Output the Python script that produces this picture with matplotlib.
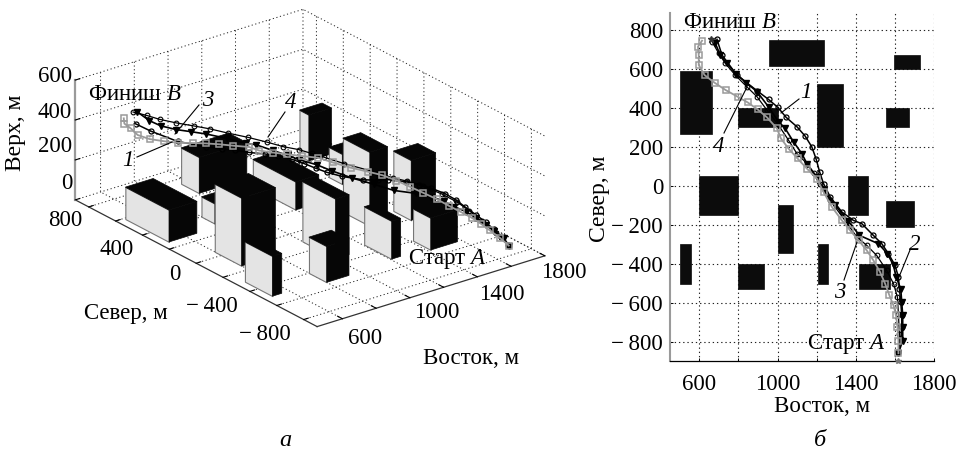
import matplotlib
matplotlib.use('Agg')
import matplotlib.pyplot as plt
from matplotlib.lines import Line2D
from mpl_toolkits.mplot3d.art3d import Poly3DCollection

plt.rcParams['font.family'] = ['Liberation Serif', 'DejaVu Serif']
plt.rcParams['mathtext.fontset'] = 'custom'
plt.rcParams['mathtext.it'] = 'Liberation Serif:italic'
plt.rcParams['mathtext.rm'] = 'Liberation Serif'

W, H = 963, 453
FS = 16.5

# buildings: west, east, south, north, height
bx0 = [500, 800, 958, 1596, 1200, 1555, 600, 1000, 1360, 1555, 500, 800, 1207, 1417]
bx1 = [665, 1000, 1240, 1730, 1336, 1672, 800, 1080, 1465, 1700, 555, 932, 1260, 1575]
by0 = [265, 300, 615, 600, 200, 300, -150, -347, -150, -213, -505, -532, -505, -532]
by1 = [590, 400, 750, 670, 520, 400, 50, -100, 50, -80, -300, -400, -300, -400]
bh = [160, 100, 180, 230, 140, 150, 340, 300, 370, 300, 200, 180, 190, 160]

# trajectories A -> B
x1 = [1618, 1630, 1635, 1635, 1630, 1623, 1618, 1601, 1567, 1533, 1490, 1431, 1388, 1329,
      1269, 1235, 1215, 1198, 1175, 1141, 1099, 1044, 1002, 954, 895, 792, 716, 690]
y1 = [-855, -786, -726, -666, -598, -529, -469, -409, -349, -298, -255, -195, -178, -135,
      -57, 11, 71, 135, 200, 255, 303, 351, 402, 443, 488, 568, 671, 752]
z1 = [85, 100, 115, 130, 145, 160, 175, 190, 205, 215, 225, 230, 232, 235,
      240, 245, 250, 255, 260, 265, 270, 275, 280, 285, 295, 320, 355, 370]

x2 = [1618, 1640, 1640, 1640, 1635, 1630, 1606, 1593, 1562, 1516, 1419, 1360, 1295, 1235,
      1201, 1150, 1124, 1082, 1039, 1005, 954, 895, 840, 789, 741, 707, 682]
y2 = [-860, -795, -726, -666, -598, -529, -469, -409, -349, -298, -255, -180, -100, -23,
      45, 114, 165, 225, 294, 328, 405, 483, 529, 574, 628, 671, 731]
z2 = [85, 95, 105, 115, 125, 135, 145, 155, 165, 175, 200, 220, 240, 265,
      280, 295, 305, 320, 335, 340, 350, 360, 370, 378, 390, 410, 440]

x3 = [1618, 1618, 1613, 1606, 1593, 1572, 1550, 1524, 1490, 1456, 1414, 1371, 1329, 1278, 1235, 1201,
      1150, 1102, 1056, 1017, 997, 946, 898, 847, 796, 735, 678, 627, 597, 597, 593, 614]
y3 = [-860, -795, -726, -666, -615, -563, -503, -443, -383, -332, -280, -229, -178, -109, -32, 37,
      88, 140, 191, 243, 294, 351, 392, 428, 457, 491, 529, 568, 620, 671, 714, 745]
z3 = [85, 100, 115, 130, 145, 160, 175, 195, 215, 235, 260, 280, 290, 300, 310, 318,
      322, 325, 328, 330, 335, 335, 340, 345, 350, 355, 365, 375, 385, 400, 410, 420]

x4 = [1618, 1623, 1618, 1613, 1593, 1558, 1507, 1456, 1405, 1363, 1269, 1218,
      1184, 1150, 1099, 1056, 1005, 946, 895, 843, 784, 733, 699, 665]
y4 = [-860, -760, -658, -572, -503, -435, -358, -306, -263, -203, -75, 11,
      63, 114, 165, 234, 311, 388, 457, 508, 568, 628, 680, 740]
z4 = [85, 110, 135, 160, 185, 210, 235, 255, 270, 285, 310, 325,
      335, 345, 355, 365, 375, 385, 395, 405, 415, 425, 435, 440]

x_grid = [600, 800, 1000, 1200, 1400, 1600, 1800]
x_labels = ['600', '', '1000', '', '1400', '', '1800']
y_grid3 = [-800, -600, -400, -200, 0, 200, 400, 600, 800]
y_grid2 = [-800, -600, -400, -200, 0, 200, 400, 600, 800]
y_labels2 = ['\u2212\u2009800', '\u2212\u2009600', '\u2212\u2009400', '\u2212\u2009200', '0',
             '200', '400', '600', '800']
z_grid = [0, 200, 400, 600]

GRAY = '#9a9a9a'
DOTS = (0, (1.2, 2.6))
STYLES = [
    dict(color='black', marker='o', ms=3.6, mfc='none', mec='black', lw=1.1, mew=0.9),
    dict(color='black', marker='v', ms=5.0, mfc='black', mec='black', lw=1.2),
    dict(color=GRAY, marker='s', ms=4.0, mfc='none', mec=GRAY, lw=1.3, mew=1.1),
    dict(color='black', marker='o', ms=3.4, mfc='none', mec='black', lw=0.9, mew=0.8),
]


def fx(px):
    return px / W


def fy(py):
    return 1 - py / H


def label(px, py, s, **kw):
    fig.text(fx(px), fy(py), s, ha='center', va='center', fontsize=kw.pop('fontsize', FS), **kw)


def leader(xa, ya, xb, yb):
    fig.add_artist(Line2D([fx(xa), fx(xb)], [fy(ya), fy(yb)], color='black', lw=0.8, zorder=20))


fig = plt.figure(figsize=(W / 100, H / 100), dpi=100)

# left: 3D view
ax = fig.add_axes([57.4 / W, fy(420.6), 492 / W, 492 / H], projection='3d', computed_zorder=False)
ax.patch.set_alpha(0)
ax.set_proj_type('ortho')
ax.view_init(elev=23.8, azim=-127.6)
ax.set_box_aspect((287.6, 396.6, 131))
ax.set_xlim(450, 1800)
ax.set_ylim(-900, 900)
ax.set_zlim(0, 600)
ax.set_xticks(x_grid)
ax.set_xticklabels(['' for v in x_grid])
ax.set_yticks(y_grid3)
ax.set_yticklabels(['' for v in y_grid3])
ax.set_zticks(z_grid)
ax.set_zticklabels(['' for v in z_grid])
for axis in (ax.xaxis, ax.yaxis, ax.zaxis):
    axis.set_pane_color((1, 1, 1, 0))
    axis.pane.set_edgecolor((1, 1, 1, 0))
    axis._axinfo['grid'].update(color='#222222', linestyle=DOTS, linewidth=0.7)
    axis._axinfo['tick'].update(inward_factor=0.0, outward_factor=0.25)
    axis.line.set_color('#333333')
    axis.line.set_linewidth(0.9)
ax.zaxis.line.set_color(GRAY)
ax.zaxis.line.set_linewidth(1.6)

order = sorted(range(len(bh)), key=lambda i: -(0.61 * (bx0[i] + bx1[i]) + 0.79 * (by0[i] + by1[i])))
for rank, i in enumerate(order):
    xa, xb, ya, yb, h = bx0[i], bx1[i], by0[i], by1[i], bh[i]
    west = [(xa, ya, 0), (xa, yb, 0), (xa, yb, h), (xa, ya, h)]
    south = [(xa, ya, 0), (xb, ya, 0), (xb, ya, h), (xa, ya, h)]
    top = [(xa, ya, h), (xb, ya, h), (xb, yb, h), (xa, yb, h)]
    ax.add_collection3d(Poly3DCollection([west], facecolor='#e4e4e4', edgecolor='#777777', linewidth=0.8, zorder=2 + rank * 0.01))
    ax.add_collection3d(Poly3DCollection([south, top], facecolor='#060606', edgecolor='#060606', linewidth=0.5, zorder=2 + rank * 0.01 + 0.001))

for xs, ys, zs, st in zip([x1, x2, x4, x3], [y1, y2, y4, y3], [z1, z2, z4, z3], [STYLES[0], STYLES[1], STYLES[3], STYLES[2]]):
    ax.plot(xs, ys, zs, zorder=5, **st)

# right: plan view
ax2 = fig.add_axes([fx(670), fy(361), 264 / W, 348 / H])
for i in range(len(bh)):
    ax2.fill([bx0[i], bx1[i], bx1[i], bx0[i]], [by0[i], by0[i], by1[i], by1[i]], color='#0c0c0c', lw=0.5, zorder=3)
for xs, ys, st in zip([x1, x2, x4, x3], [y1, y2, y4, y3], [STYLES[0], STYLES[1], STYLES[3], STYLES[2]]):
    ax2.plot(xs, ys, zorder=4, **st)
ax2.plot([x1[0] - 2], [-900], marker='*', ms=4, color='#777777', zorder=5, clip_on=False)
ax2.plot([x1[-1] - 30], [y1[-1]], marker='*', ms=5, color='#333333', zorder=5)
ax2.set_xlim(450, 1800)
ax2.set_ylim(-900, 887)
ax2.set_xticks(x_grid)
ax2.set_xticklabels(x_labels, fontsize=FS)
ax2.set_yticks(y_grid2)
ax2.set_yticklabels(y_labels2, fontsize=FS)
ax2.grid(True, color='#222222', linestyle=DOTS, linewidth=0.8, zorder=1)
ax2.set_axisbelow(True)
ax2.tick_params(axis='both', direction='in', length=2, width=0.7, pad=5)
ax2.tick_params(axis='x', pad=9)
ax2.spines['top'].set_visible(False)
ax2.spines['right'].set_visible(False)
ax2.spines['left'].set_color(GRAY)
ax2.spines['left'].set_linewidth(1.5)
ax2.spines['bottom'].set_linewidth(0.9)

# 3D tick numbers sit where the original has them, not along the tick direction
for s, px, py in [('0', 67, 183), ('200', 55, 147), ('400', 55, 113), ('600', 55, 77)]:
    label(px, py, s)
for s, px, py in [('800', 65, 220), ('400', 117, 249), ('0', 175, 275),
                  ('\u2212\u2009400', 212, 306), ('\u2212\u2009800', 265, 335)]:
    label(px, py, s)
for s, px, py in [('600', 365, 339), ('1000', 437, 312), ('1400', 502, 295), ('1800', 564, 272)]:
    label(px, py, s)

# axis titles and notes
label(15, 133, 'Верх, м', rotation=90, fontsize=FS + 0.5)
label(126, 313, 'Север, м')
label(471, 358, 'Восток, м')
label(600, 199, 'Север, м', rotation=90, fontsize=FS + 0.5)
label(822, 406, 'Восток, м')
label(135, 94, 'Финиш $\\mathit{B}$')
label(447, 259, 'Старт $\\mathit{A}$')
label(730, 23, 'Финиш $\\mathit{B}$')
label(846, 344, 'Старт $\\mathit{A}$')
label(285, 441, 'а', style='italic', fontsize=FS + 1)
label(820, 440, 'б', style='italic', fontsize=FS + 1)

for px, py, s in [(128, 161, '1'), (208, 100, '3'), (291, 102, '4'),
                  (806, 92, '1'), (719, 146, '4'), (915, 245, '2'), (840, 293, '3')]:
    label(px, py, s, style='italic')
leader(137, 157, 172, 142)
leader(199, 105, 175, 134)
leader(285, 112, 268, 137)
leader(799, 99, 781, 113)
leader(724, 133, 747, 87)
leader(910, 250, 899, 277)
leader(844, 280, 857, 242)

fig.savefig('out.png', dpi=100, facecolor='white')
